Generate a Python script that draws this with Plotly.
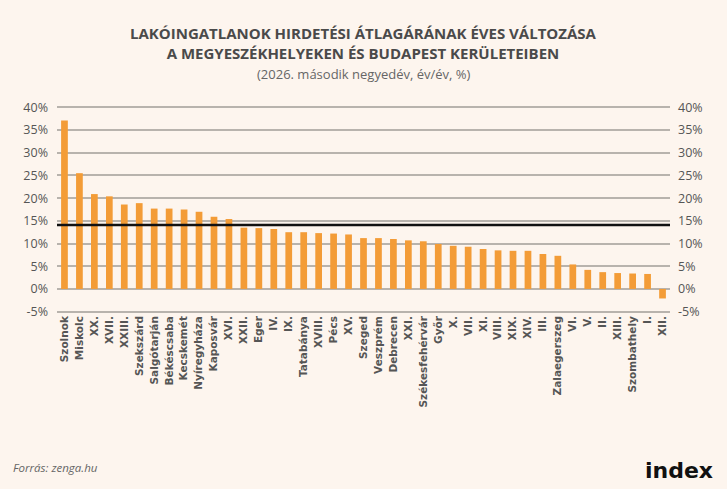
import plotly.graph_objects as go

categories = ["Szolnok", "Miskolc", "XX.", "XVII.", "XXIII.", "Szekszárd", "Salgótarján",
              "Békéscsaba", "Kecskemét", "Nyíregyháza", "Kaposvár", "XVI.", "XXII.", "Eger",
              "IV.", "IX.", "Tatabánya", "XVIII.", "Pécs", "XV.", "Szeged", "Veszprém",
              "Debrecen", "XXI.", "Székesfehérvár", "Győr", "X.", "VII.", "XI.", "VIII.",
              "XIX.", "XIV.", "III.", "Zalaegerszeg", "VI.", "V.", "II.", "XIII.",
              "Szombathely", "I.", "XII."]
values = [37.1, 25.5, 20.9, 20.4, 18.6, 18.9, 17.7, 17.7, 17.5, 17.0, 15.9, 15.4, 13.5, 13.4,
          13.2, 12.5, 12.5, 12.3, 12.2, 12.0, 11.2, 11.2, 11.0, 10.7, 10.5, 9.9, 9.5, 9.3,
          8.8, 8.5, 8.4, 8.4, 7.7, 7.3, 5.4, 4.2, 3.7, 3.5, 3.4, 3.3, -2.1]
average = 14.1
tick_vals = [-5, 0, 5, 10, 15, 20, 25, 30, 35, 40]
tick_text = ["-5%", "0%", "5%", "10%", "15%", "20%", "25%", "30%", "35%", "40%"]

BG = "#fdf5ee"
GRID = "#b8b3ad"
TXT = "#555555"
FONT = "Open Sans"

fig = go.Figure()
fig.add_trace(go.Bar(x=categories, y=values, marker=dict(color="#f39c37", line=dict(width=0)),
                     showlegend=False))
fig.add_trace(go.Scatter(x=categories, y=values, yaxis="y2", mode="markers",
                         marker=dict(opacity=0), showlegend=False, hoverinfo="skip"))

yr = [-5.3, 40.3]
fig.update_layout(
    width=727, height=489,
    margin=dict(l=57, r=57, t=106, b=176),
    paper_bgcolor=BG, plot_bgcolor=BG,
    bargap=0.55,
    font=dict(family=FONT, color=TXT),
    xaxis=dict(range=[-0.5, len(categories) - 0.5], tickangle=-90,
               tickmode="array", tickvals=categories, ticktext=categories,
               tickfont=dict(family="DejaVu Sans", size=10.5, color=TXT, weight="bold"),
               showgrid=False, showline=False, ticks="", zeroline=False),
    yaxis=dict(range=yr, tickvals=tick_vals, ticktext=tick_text, showgrid=True,
               gridcolor=GRID, gridwidth=1.5, zeroline=True, zerolinecolor=GRID,
               zerolinewidth=1.5, tickfont=dict(family=FONT, size=12.5, color=TXT),
               ticks="", ticklabelstandoff=8),
    yaxis2=dict(range=yr, tickvals=tick_vals, ticktext=tick_text, overlaying="y",
                side="right", showgrid=False, zeroline=False,
                tickfont=dict(family=FONT, size=12.5, color=TXT), ticks="",
                ticklabelstandoff=7),
    shapes=[dict(type="line", xref="paper", x0=0, x1=1, yref="y", y0=average, y1=average,
                 line=dict(color="#111111", width=2.5))],
    annotations=[
        dict(text="<b>LAKÓINGATLANOK HIRDETÉSI ÁTLAGÁRÁNAK ÉVES VÁLTOZÁSA<br>"
                  "A MEGYESZÉKHELYEKEN ÉS BUDAPEST KERÜLETEIBEN</b>",
             xref="paper", yref="paper", x=0.5, y=1, xanchor="center", yanchor="middle",
             yshift=106 - 43, showarrow=False,
             font=dict(family=FONT, size=15, color="#4a4a4a")),
        dict(text="(2026. második negyedév, év/év, %)", xref="paper", yref="paper",
             x=0.5, y=1, xanchor="center", yanchor="middle", yshift=106 - 74,
             showarrow=False, font=dict(family=FONT, size=13, color="#666666")),
        dict(text="<i>Forrás: zenga.hu</i>", xref="paper", yref="paper", x=0, y=0,
             xanchor="left", yanchor="middle", xshift=-46, yshift=313 - 467,
             showarrow=False, font=dict(family=FONT, size=11.5, color="#666666")),
        dict(text="<b>index</b>", xref="paper", yref="paper", x=1, y=0,
             xanchor="right", yanchor="middle", xshift=45, yshift=313 - 470,
             showarrow=False, font=dict(family="DejaVu Sans", size=22, color="#111111")),
    ],
)
fig.write_html("out.html")
